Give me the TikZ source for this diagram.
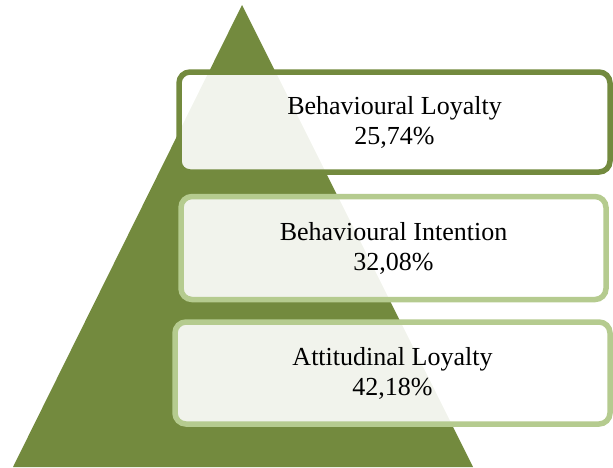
\documentclass[tikz,border=0pt]{standalone}
\usepackage{fontspec}
\setmainfont{Liberation Serif}
\definecolor{olivedark}{HTML}{738A3E}
\definecolor{olivelight}{HTML}{B5CB8F}
\begin{document}
\begin{tikzpicture}[x=1pt,y=-1pt,
  levelbox/.style={rectangle, rounded corners=11pt, line width=5.5pt,
    fill=white, fill opacity=0.9, text opacity=1, inner sep=0pt,
    align=center, font=\fontsize{26}{30}\selectfont}]
\useasboundingbox (0,0) rectangle (613,467);
\fill[olivedark] (242,5) -- (473,467) -- (13,467) -- cycle;
\node[levelbox, draw=olivedark, minimum width=431pt, minimum height=100pt] (b1) at (394.5,122) {Behavioural Loyalty\\25,74\%};
\node[levelbox, draw=olivelight, minimum width=425pt, minimum height=103pt] (b2) at (393.5,248) {Behavioural Intention\\32,08\%};
\node[levelbox, draw=olivelight, minimum width=435pt, minimum height=102pt] (b3) at (392.5,373) {Attitudinal Loyalty\\42,18\%};
\end{tikzpicture}
\end{document}
